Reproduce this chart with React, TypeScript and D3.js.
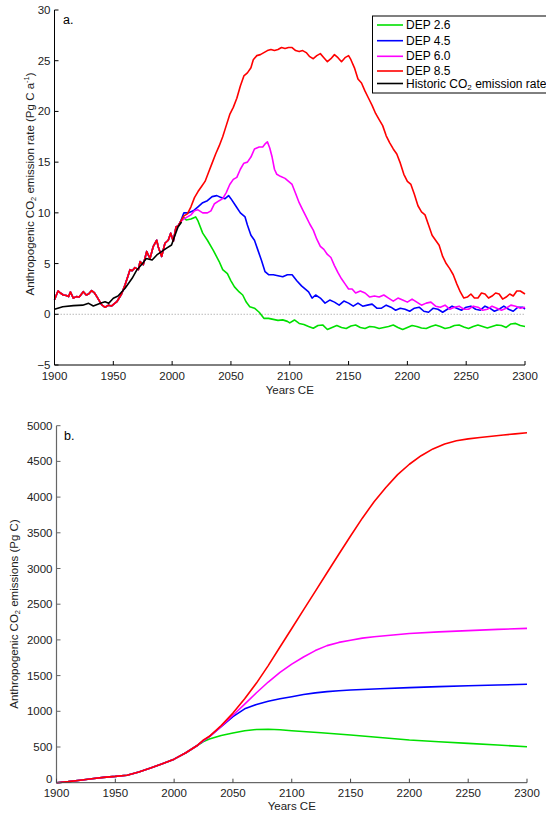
import React from "react";
import * as d3 from "d3";

// ---- Panel a: emission rate (Pg C a^-1) ----
const historicYears = [1900, 1907, 1916, 1924, 1929, 1933, 1939, 1943, 1946, 1950, 1954, 1960, 1966, 1970, 1975, 1978, 1983, 1987, 1991, 1995, 1999.5, 2001.5, 2005, 2008];
const historicRate = [0.49, 0.75, 0.85, 0.9, 1.08, 0.82, 1.08, 1.24, 1.08, 1.58, 1.81, 2.56, 3.55, 4.37, 5.03, 5.5, 5.35, 5.85, 6.17, 6.5, 6.83, 7.5, 8.6, 9.1];

// shared reconstructed emissions used by every DEP scenario up to 2007
const sharedYears = [1900, 1903, 1905, 1907.5, 1910, 1912, 1913.5, 1916, 1918.7, 1921, 1924.5, 1927, 1929, 1931.6, 1934, 1936, 1940, 1943, 1946, 1948.6, 1953, 1957, 1960, 1962, 1964.2, 1966, 1968.4, 1971.3, 1972.7, 1975.5, 1978.4, 1979.5, 1981.2, 1984, 1986.9, 1988.3, 1991.1, 1993.9, 1996.7, 1998.8, 2001, 2003.3, 2005, 2007];
const sharedRate = [1.45, 2.3, 2.1, 1.9, 1.85, 1.74, 2.2, 1.6, 1.74, 1.7, 2.23, 1.9, 2.0, 2.33, 2.1, 1.74, 0.95, 0.69, 0.9, 0.82, 1.24, 2.0, 2.9, 3.6, 4.4, 4.3, 4.6, 4.4, 5.2, 4.9, 6.2, 5.9, 5.5, 6.7, 7.3, 6.6, 5.7, 7.0, 7.3, 8.0, 7.2, 8.6, 8.7, 9.1];

const dep26Years = [2009.5, 2012, 2016, 2020, 2022, 2026, 2030, 2035, 2040, 2043, 2047, 2050, 2053, 2057, 2060, 2063, 2066, 2070, 2074, 2078, 2082, 2086, 2090, 2094, 2098, 2100, 2104, 2108, 2112, 2116, 2120, 2124, 2128, 2132, 2136, 2140, 2144, 2148, 2152, 2156, 2160, 2164, 2168, 2172, 2176, 2180, 2184, 2188, 2192, 2196, 2200, 2204, 2208, 2212, 2216, 2220, 2224, 2228, 2232, 2236, 2240, 2244, 2248, 2252, 2256, 2260, 2264, 2268, 2272, 2276, 2280, 2284, 2288, 2292, 2296, 2300];
const dep26Rate = [9.6, 9.3, 9.4, 9.6, 9.2, 8.0, 7.3, 6.3, 5.2, 4.4, 4.0, 3.3, 2.7, 2.2, 1.9, 1.2, 0.75, 0.6, 0.2, -0.4, -0.4, -0.5, -0.6, -0.55, -0.7, -0.85, -0.56, -0.9, -1.0, -1.2, -1.38, -1.1, -1.05, -1.5, -1.3, -1.1, -1.3, -1.4, -1.15, -1.05, -1.3, -1.4, -1.2, -1.25, -1.4, -1.3, -1.2, -1.05, -1.3, -1.5, -1.3, -1.1, -1.2, -1.35, -1.4, -1.2, -1.05, -1.2, -1.4, -1.3, -1.1, -1.05, -1.25, -1.4, -1.2, -1.05, -1.2, -1.35, -1.2, -1.05, -1.1, -1.3, -0.95, -0.9, -1.1, -1.2];

const dep45Years = [2010, 2014, 2018, 2022, 2026, 2030, 2034, 2038, 2042, 2045, 2048, 2050, 2054, 2058, 2062, 2064, 2067, 2070, 2073, 2076, 2079, 2082, 2086, 2090, 2094, 2098, 2102, 2106, 2110, 2113, 2116, 2119, 2122, 2126, 2130, 2134, 2138, 2142, 2146, 2150, 2154, 2158, 2162, 2166, 2170, 2174, 2178, 2182, 2186, 2190, 2194, 2198, 2202, 2206, 2210, 2214, 2218, 2222, 2226, 2230, 2234, 2238, 2242, 2246, 2250, 2254, 2258, 2262, 2266, 2270, 2274, 2278, 2282, 2286, 2290, 2294, 2298, 2300];
const dep45Rate = [10.0, 10.0, 10.2, 10.6, 11.0, 11.2, 11.6, 11.7, 11.5, 11.4, 11.7, 11.4, 10.7, 10.0, 9.6, 8.8, 7.8, 7.3, 6.3, 5.3, 4.2, 3.9, 3.9, 3.8, 3.7, 3.9, 3.9, 3.3, 2.8, 2.5, 2.2, 1.6, 1.9, 1.6, 1.1, 1.4, 1.2, 0.9, 1.3, 1.1, 0.8, 1.1, 0.8, 0.9, 1.0, 0.6, 0.6, 0.9, 0.7, 0.4, 0.6, 0.5, 0.3, 0.6, 0.7, 0.3, 0.2, 0.6, 0.5, 0.2, 0.5, 0.8, 0.6, 0.4, 0.7, 0.8, 0.5, 0.4, 0.8, 0.6, 0.3, 0.5, 0.8, 0.5, 0.3, 0.7, 0.7, 0.5];

const dep60Years = [2010, 2013, 2016, 2019, 2022, 2026, 2030, 2033, 2036, 2040, 2043, 2046, 2049, 2052, 2055, 2058, 2061, 2064, 2067, 2070, 2074, 2077, 2079, 2081, 2083, 2085, 2087, 2089, 2092, 2096, 2099, 2102, 2105, 2108, 2111, 2114, 2117, 2120, 2123, 2126, 2129, 2132, 2135, 2138, 2141, 2144, 2147, 2150, 2153, 2156, 2160, 2164, 2168, 2172, 2176, 2180, 2184, 2188, 2192, 2196, 2200, 2204, 2208, 2212, 2216, 2220, 2224, 2228, 2232, 2236, 2240, 2244, 2248, 2252, 2256, 2260, 2264, 2268, 2272, 2276, 2280, 2284, 2288, 2292, 2296, 2300];
const dep60Rate = [9.4, 9.6, 9.8, 10.2, 10.3, 10.0, 10.0, 10.2, 10.9, 11.2, 11.4, 12.0, 12.8, 13.3, 13.5, 14.3, 14.9, 15.0, 15.5, 16.3, 16.5, 16.5, 16.8, 17.0, 16.4, 15.5, 14.3, 13.8, 13.6, 13.4, 13.1, 12.8, 11.9, 11.0, 10.3, 9.6, 8.9, 8.3, 7.4, 6.7, 6.4, 5.9, 5.6, 4.8, 4.1, 3.5, 3.0, 2.5, 2.5, 2.1, 2.3, 2.1, 1.7, 1.8, 1.7, 1.9, 1.6, 1.3, 1.6, 1.4, 1.2, 1.5, 1.2, 0.9, 1.1, 1.2, 0.8, 0.7, 0.9, 0.5, 0.7, 0.8, 0.5, 0.5, 0.8, 0.7, 0.4, 0.5, 0.8, 0.6, 0.4, 0.6, 0.9, 0.8, 0.6, 0.7];

const dep85Years = [2010, 2013, 2016, 2019, 2022, 2025, 2028, 2031, 2034, 2037, 2040, 2043, 2046, 2049, 2052, 2055, 2058, 2061, 2064, 2067, 2069, 2072, 2075, 2078, 2081, 2084, 2087, 2090, 2093, 2096, 2099, 2102, 2105, 2108, 2111, 2114, 2117, 2120, 2123, 2126, 2129, 2132, 2135, 2138, 2141, 2144, 2147, 2150, 2152, 2155, 2158, 2161, 2164, 2167, 2170, 2173, 2176, 2179, 2182, 2185, 2188, 2191, 2194, 2197, 2200, 2203, 2206, 2209, 2212, 2215, 2218, 2221, 2224, 2227, 2230, 2233, 2236, 2239, 2242, 2245, 2248, 2251, 2254, 2257, 2260, 2263, 2266, 2269, 2272, 2275, 2278, 2281, 2284, 2287, 2290, 2293, 2296, 2300];
const dep85Rate = [9.7, 9.9, 10.6, 11.5, 12.1, 12.6, 13.1, 14.0, 14.9, 15.8, 16.6, 17.5, 18.6, 19.7, 20.4, 21.3, 22.5, 23.5, 23.8, 24.3, 25.1, 25.5, 25.6, 25.8, 26.0, 26.1, 26.0, 26.1, 26.3, 26.2, 26.3, 26.3, 26.0, 25.9, 26.0, 25.8, 25.4, 25.2, 25.5, 25.7, 25.3, 24.9, 25.2, 25.6, 25.3, 24.9, 25.3, 25.5, 25.1, 24.3, 23.2, 22.8, 22.0, 21.3, 20.6, 19.8, 19.2, 18.6, 17.6, 16.9, 16.3, 15.8, 14.9, 13.8, 13.1, 12.8, 11.8, 10.7, 10.1, 9.8, 8.8, 7.8, 7.3, 6.8, 5.7, 5.0, 4.5, 3.9, 3.0, 2.2, 1.6, 1.7, 2.0, 1.6, 1.6, 2.1, 2.0, 1.6, 1.8, 2.1, 2.0, 1.5, 1.7, 2.0, 1.8, 2.3, 2.3, 2.0];

// ---- Panel b: cumulative emissions (Pg C) ----
const cumSharedYears = [1900, 1910, 1920, 1930, 1940, 1950, 1960, 1970, 1980, 1990, 2000, 2010, 2020];
const cumShared = [0, 15, 35, 55, 75, 88, 105, 150, 205, 265, 330, 420, 525];
const cum26Years = [2025, 2030, 2040, 2050, 2060, 2070, 2080, 2090, 2100, 2125, 2150, 2175, 2200, 2225, 2250, 2275, 2300];
const cum26 = [575, 612, 660, 695, 728, 745, 748, 742, 728, 700, 668, 633, 598, 574, 551, 527, 504];
const cum45Years = [2025, 2030, 2040, 2050, 2060, 2070, 2080, 2090, 2100, 2110, 2120, 2130, 2140, 2150, 2175, 2200, 2225, 2250, 2275, 2300];
const cum45 = [590, 645, 785, 925, 1035, 1095, 1140, 1175, 1205, 1235, 1258, 1275, 1288, 1298, 1315, 1331, 1345, 1357, 1368, 1378];
const cum60Years = [2025, 2030, 2040, 2050, 2060, 2070, 2080, 2090, 2100, 2110, 2120, 2130, 2140, 2150, 2160, 2170, 2200, 2225, 2250, 2275, 2300];
const cum60 = [590, 645, 790, 945, 1100, 1260, 1410, 1545, 1660, 1760, 1850, 1920, 1965, 1995, 2025, 2045, 2090, 2112, 2130, 2147, 2162];
const cum85Years = [2025, 2030, 2040, 2050, 2060, 2070, 2080, 2090, 2100, 2110, 2120, 2130, 2140, 2150, 2160, 2170, 2180, 2190, 2200, 2210, 2220, 2230, 2240, 2250, 2260, 2270, 2280, 2290, 2300];
const cum85 = [600, 650, 800, 975, 1175, 1395, 1640, 1900, 2160, 2420, 2680, 2940, 3200, 3455, 3705, 3935, 4135, 4315, 4460, 4580, 4675, 4745, 4790, 4815, 4835, 4853, 4870, 4886, 4902];

const scenarioNames = ["DEP 2.6", "DEP 4.5", "DEP 6.0", "DEP 8.5"];
const scenarioColors = ["#00e000", "#0000ff", "#ff00ff", "#ff0000"];
const yearTicks = [1900, 1950, 2000, 2050, 2100, 2150, 2200, 2250, 2300];
const rateTicks = [-5, 0, 5, 10, 15, 20, 25, 30];
const cumTicks = [0, 500, 1000, 1500, 2000, 2500, 3000, 3500, 4000, 4500, 5000];

type Pt = [number, number];
const zip = (xs: number[], ys: number[]): Pt[] => xs.map((x, i) => [x, ys[i]]);

const FONT = "'Liberation Sans', Arial, Helvetica, sans-serif";

export default function App() {
  const W = 546;
  const H = 815;

  // scales for panel a
  const xa = d3.scaleLinear().domain([1900, 2300]).range([54.5, 525]);
  const ya = d3.scaleLinear().domain([-5, 30]).range([365, 10]);
  // scales for panel b
  const xb = d3.scaleLinear().domain([1900, 2300]).range([56.5, 527]);
  const yb = d3.scaleLinear().domain([0, 5000]).range([782.7, 425.7]);

  const lineA = d3.line<Pt>().x((d) => xa(d[0])).y((d) => ya(d[1]));
  const lineB = d3.line<Pt>().x((d) => xb(d[0])).y((d) => yb(d[1]));

  const shared = zip(sharedYears, sharedRate);
  const rateSeries: Pt[][] = [
    shared.concat(zip(dep26Years, dep26Rate)),
    shared.concat(zip(dep45Years, dep45Rate)),
    shared.concat(zip(dep60Years, dep60Rate)),
    shared.concat(zip(dep85Years, dep85Rate)),
  ];
  const historic = zip(historicYears, historicRate);

  const cumBase = zip(cumSharedYears, cumShared);
  const cumSeries: Pt[][] = [
    cumBase.concat(zip(cum26Years, cum26)),
    cumBase.concat(zip(cum45Years, cum45)),
    cumBase.concat(zip(cum60Years, cum60)),
    cumBase.concat(zip(cum85Years, cum85)),
  ];

  const tickFont = 11.5;
  const legendRows = [25, 40.7, 56.3, 71, 83.5];

  return (
    <svg
      width={W}
      height={H}
      style={{ position: "absolute", left: 0, top: 0, background: "#fff" }}
      fontFamily={FONT}
    >
      {/* ===== Panel a ===== */}
      <g>
        <line x1={xa(1900)} x2={xa(2300)} y1={ya(0)} y2={ya(0)} stroke="#aaa" strokeWidth={0.8} strokeDasharray="1.5,1.5" />
        {rateSeries.map((s, i) => (
          <path key={i} d={lineA(s) || ""} fill="none" stroke={scenarioColors[i]} strokeWidth={1.6} strokeLinejoin="round" />
        ))}
        <path d={lineA(historic) || ""} fill="none" stroke="#000" strokeWidth={1.6} strokeLinejoin="round" />

        {/* axes */}
        <line x1={xa(1900)} x2={xa(1900)} y1={ya(30)} y2={ya(-5)} stroke="#000" strokeWidth={1} />
        <line x1={xa(1900)} x2={xa(2300)} y1={ya(-5)} y2={ya(-5)} stroke="#000" strokeWidth={1} />
        {rateTicks.map((t) => (
          <g key={t}>
            <line x1={xa(1900)} x2={xa(1900) + 4} y1={ya(t)} y2={ya(t)} stroke="#000" />
            <text x={xa(1900) - 4} y={ya(t)} fontSize={tickFont} textAnchor="end" dominantBaseline="central" fill="#222">
              {t < 0 ? "\u2212" + Math.abs(t) : t}
            </text>
          </g>
        ))}
        {yearTicks.map((t) => (
          <g key={t}>
            <line x1={xa(t)} x2={xa(t)} y1={ya(-5)} y2={ya(-5) - 4} stroke="#000" />
            <text x={xa(t)} y={376} fontSize={tickFont} textAnchor="middle" dominantBaseline="central" fill="#222">
              {t}
            </text>
          </g>
        ))}
        <text x={xa(2100)} y={390} fontSize={11.5} textAnchor="middle" dominantBaseline="central" fill="#222">
          Years CE
        </text>
        <text transform={`translate(30,${184}) rotate(-90)`} fontSize={11.5} textAnchor="middle" dominantBaseline="central" fill="#222">
          Anthropogenic CO<tspan fontSize={7.5} dy={3}>2</tspan>
          <tspan dy={-3}> emission rate (Pg C a</tspan>
          <tspan fontSize={7.5} dy={-4}>-1</tspan>
          <tspan dy={4}>)</tspan>
        </text>
        <text x={63} y={20} fontSize={12.5} dominantBaseline="central" fill="#000">
          a.
        </text>

        {/* legend */}
        <rect x={372.5} y={16} width={190} height={77} fill="#fff" stroke="#000" strokeWidth={1} />
        {scenarioNames.map((n, i) => (
          <g key={n}>
            <line x1={377} x2={403} y1={legendRows[i]} y2={legendRows[i]} stroke={scenarioColors[i]} strokeWidth={1.6} />
            <text x={406} y={legendRows[i]} fontSize={12} dominantBaseline="central" fill="#000">
              {n}
            </text>
          </g>
        ))}
        <line x1={377} x2={403} y1={legendRows[4]} y2={legendRows[4]} stroke="#000" strokeWidth={1.6} />
        <text x={406} y={legendRows[4]} fontSize={12} dominantBaseline="central" fill="#000">
          Historic CO<tspan fontSize={8} dy={3}>2</tspan>
          <tspan dy={-3}> emission rate</tspan>
        </text>
      </g>

      {/* ===== Panel b ===== */}
      <g>
        {cumSeries.map((s, i) => (
          <path key={i} d={lineB(s) || ""} fill="none" stroke={scenarioColors[i]} strokeWidth={1.6} strokeLinejoin="round" />
        ))}
        <line x1={xb(1900)} x2={xb(1900)} y1={yb(5000)} y2={yb(0)} stroke="#666" strokeWidth={1.2} />
        <line x1={xb(1900)} x2={xb(2300)} y1={yb(0)} y2={yb(0)} stroke="#444" strokeWidth={1} />
        {cumTicks.map((t) => (
          <g key={t}>
            <line x1={xb(1900)} x2={xb(1900) + 4} y1={yb(t)} y2={yb(t)} stroke="#666" />
            {/* the bottom label sits a little higher so it clears the first year label */}
            <text x={xb(1900) - 4} y={yb(t) - (t === 0 ? 3.5 : 0)} fontSize={tickFont} textAnchor="end" dominantBaseline="central" fill="#222">
              {t}
            </text>
          </g>
        ))}
        {yearTicks.map((t) => (
          <g key={t}>
            <line x1={xb(t)} x2={xb(t)} y1={yb(0)} y2={yb(0) - 4} stroke="#444" />
            <text x={xb(t)} y={793} fontSize={tickFont} textAnchor="middle" dominantBaseline="central" fill="#222">
              {t}
            </text>
          </g>
        ))}
        <text x={xb(2100)} y={806} fontSize={11.5} textAnchor="middle" dominantBaseline="central" fill="#222">
          Years CE
        </text>
        <text transform={`translate(14,${614}) rotate(-90)`} fontSize={11.5} textAnchor="middle" dominantBaseline="central" fill="#222">
          Anthropogenic CO<tspan fontSize={7.5} dy={3}>2</tspan>
          <tspan dy={-3}> emissions (Pg C)</tspan>
        </text>
        <text x={64} y={436} fontSize={12.5} dominantBaseline="central" fill="#000">
          b.
        </text>
      </g>
    </svg>
  );
}
